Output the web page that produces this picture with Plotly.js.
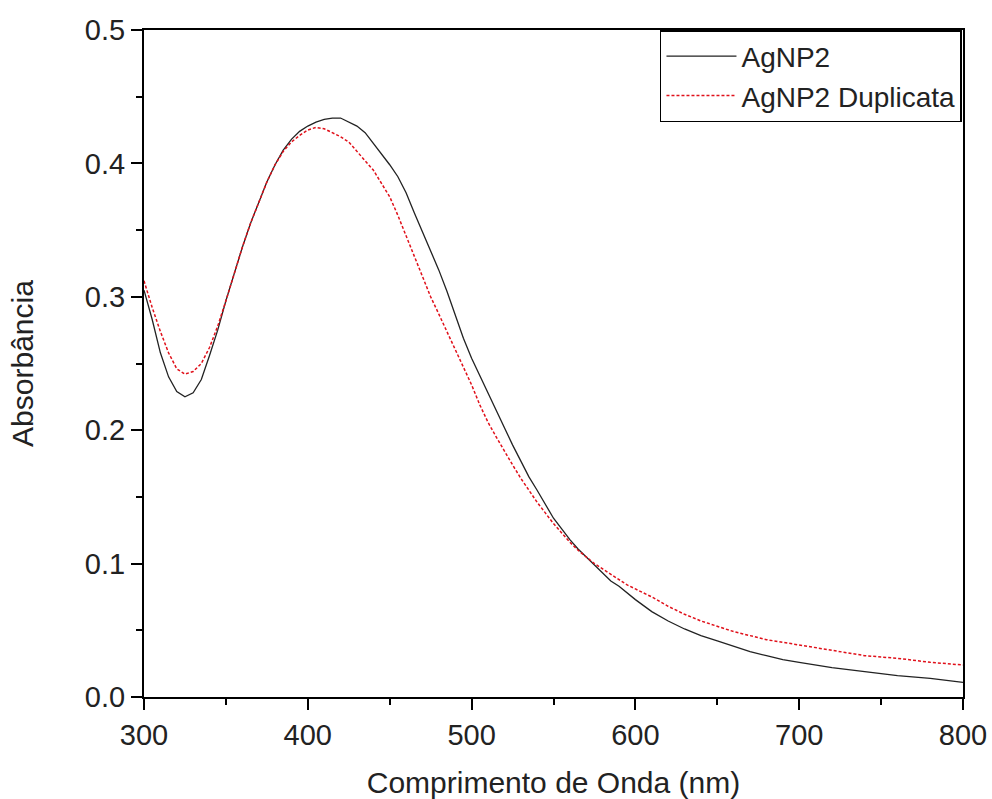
<!DOCTYPE html>
<html>
<head>
<meta charset="utf-8">
<script src="https://cdn.plot.ly/plotly-3.0.1.min.js"></script>
<style>html,body{margin:0;padding:0;background:#fff;}#chart{width:992px;height:799px;}</style>
</head>
<body>
<div id="chart"></div>
<script>
// Wavelength grid (nm)
const wavelength = [300,305,310,315,320,325,330,335,340,345,350,355,360,365,370,375,380,385,390,395,400,405,410,415,420,425,430,435,440,445,450,455,460,465,470,475,480,485,490,495,500,505,510,515,520,525,530,535,540,545,550,555,560,565,570,575,580,585,590,595,600,610,620,630,640,650,660,670,680,690,700,720,740,760,780,800];

// AgNP2 absorbance
const agnp2 = [0.305,0.283,0.258,0.240,0.229,0.225,0.228,0.238,0.256,0.275,0.297,0.318,0.337,0.355,0.371,0.386,0.399,0.410,0.418,0.424,0.428,0.431,0.433,0.434,0.434,0.431,0.428,0.423,0.415,0.407,0.399,0.390,0.378,0.363,0.349,0.335,0.320,0.304,0.287,0.269,0.254,0.241,0.227,0.214,0.201,0.189,0.177,0.165,0.155,0.144,0.134,0.126,0.118,0.111,0.105,0.099,0.093,0.087,0.083,0.078,0.073,0.064,0.057,0.051,0.046,0.042,0.038,0.034,0.031,0.028,0.026,0.022,0.019,0.016,0.014,0.011];

// AgNP2 Duplicata absorbance
const agnp2dup = [0.312,0.292,0.274,0.258,0.246,0.242,0.244,0.250,0.262,0.278,0.297,0.318,0.337,0.355,0.371,0.386,0.399,0.409,0.416,0.421,0.425,0.427,0.426,0.423,0.420,0.416,0.409,0.402,0.395,0.385,0.375,0.361,0.346,0.330,0.315,0.300,0.287,0.274,0.261,0.247,0.234,0.219,0.206,0.195,0.184,0.174,0.164,0.155,0.146,0.138,0.130,0.123,0.116,0.110,0.105,0.100,0.096,0.092,0.088,0.084,0.081,0.075,0.068,0.062,0.057,0.053,0.049,0.046,0.043,0.041,0.039,0.035,0.031,0.029,0.026,0.024];

const xTicks = [300,400,500,600,700,800];
const yTicks = [0.0,0.1,0.2,0.3,0.4,0.5];
const yTickText = ['0.0','0.1','0.2','0.3','0.4','0.5'];

const FONT = 'Liberation Sans, Arial, sans-serif';
const TXT = '#222';

const traces = [
  {x: wavelength, y: agnp2, name: 'AgNP2', type: 'scatter', mode: 'lines',
   line: {color: '#222', width: 1.3}},
  {x: wavelength, y: agnp2dup, name: 'AgNP2 Duplicata', type: 'scatter', mode: 'lines',
   line: {color: '#e0101a', width: 1.5, dash: '3px,2px'}}
];

const layout = {
  width: 992, height: 799,
  margin: {l: 144, r: 29, t: 30, b: 102},
  paper_bgcolor: '#fff', plot_bgcolor: '#fff',
  showlegend: true,
  font: {family: FONT, color: TXT, size: 26},
  xaxis: {
    range: [300, 800], tickvals: xTicks, ticktext: xTicks.map(String),
    showgrid: false, zeroline: false,
    showline: true, linecolor: '#000', linewidth: 2, mirror: true,
    ticks: 'outside', ticklen: 11, tickwidth: 2, tickcolor: '#000',
    minor: {dtick: 50, ticks: 'outside', ticklen: 6, tickwidth: 2, tickcolor: '#000', showgrid: false},
    tickfont: {family: FONT, size: 29, color: TXT},
    title: {text: 'Comprimento de Onda (nm)', font: {family: FONT, size: 30, color: TXT}, standoff: 22}
  },
  yaxis: {
    range: [0, 0.5], tickvals: yTicks, ticktext: yTickText,
    showgrid: false, zeroline: false,
    showline: true, linecolor: '#000', linewidth: 2, mirror: true,
    ticks: 'outside', ticklen: 11, tickwidth: 2, tickcolor: '#000',
    minor: {dtick: 0.05, ticks: 'outside', ticklen: 6, tickwidth: 2, tickcolor: '#000', showgrid: false},
    tickfont: {family: FONT, size: 29, color: TXT},
    title: {text: 'Absorbância', font: {family: FONT, size: 30, color: TXT}, standoff: 42}
  },
  legend: {
    x: 0.63, xanchor: 'left', y: 1.0, yanchor: 'top',
    bgcolor: '#fff', bordercolor: '#000', borderwidth: 1.5,
    font: {family: FONT, size: 28, color: TXT},
    itemwidth: 70, tracegroupgap: 0
  }
};

Plotly.newPlot('chart', traces, layout, {displayModeBar: false, staticPlot: true});
</script>
</body>
</html>
